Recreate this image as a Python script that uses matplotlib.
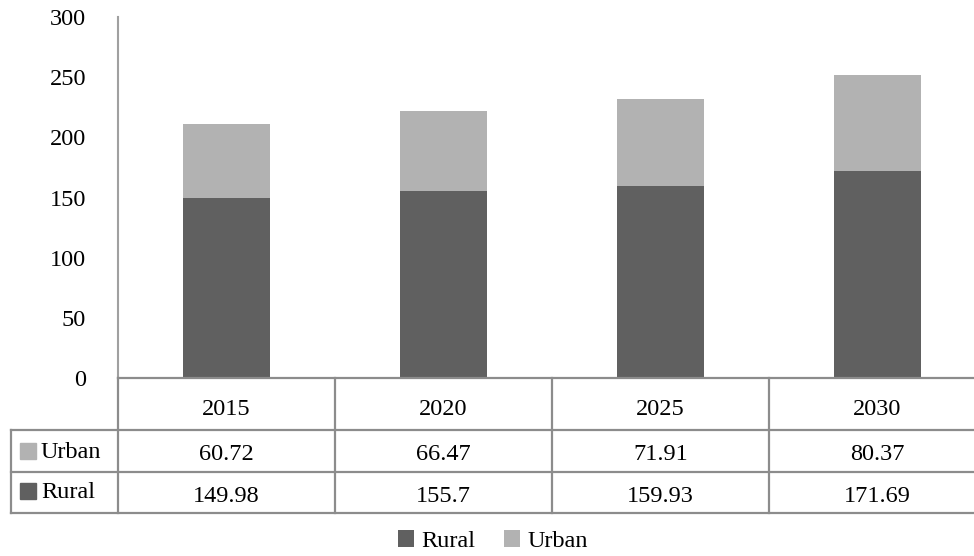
import matplotlib
matplotlib.use("Agg")
import matplotlib.pyplot as plt
from matplotlib.lines import Line2D
from matplotlib.patches import Rectangle
from matplotlib.transforms import blended_transform_factory

years = ["2015", "2020", "2025", "2030"]
rural = [149.98, 155.7, 159.93, 171.69]
urban = [60.72, 66.47, 71.91, 80.37]

RURAL_C = "#606060"
URBAN_C = "#b2b2b2"
LINE_C = "#8c8c8c"

plt.rcParams["font.family"] = ["Liberation Serif", "DejaVu Serif"]
plt.rcParams["font.size"] = 17.5

W, H = 974, 556
fig = plt.figure(figsize=(W / 100, H / 100), dpi=100)


def fx(px):
    return px / W


def fy(py):
    return 1 - py / H


# plot area in pixel terms: left 118, right 986 (runs past the edge), top 17, bottom 378
ax = fig.add_axes([fx(118), fy(378), fx(986 - 118), (378 - 17) / H])
x = list(range(len(years)))
ax.bar(x, rural, width=0.4, color=RURAL_C, label="Rural", zorder=2)
ax.bar(x, urban, width=0.4, bottom=rural, color=URBAN_C, label="Urban", zorder=2)

ax.set_xlim(-0.5, len(years) - 0.5)
ax.set_ylim(0, 300)
ax.set_yticks(range(0, 301, 50))
ax.set_xticks([])
ax.tick_params(axis="y", length=0, pad=23)
for lbl in ax.get_yticklabels():
    lbl.set_va("center_baseline")
for s in ("top", "right", "bottom"):
    ax.spines[s].set_visible(False)
ax.spines["left"].set_color("#a0a0a0")
ax.spines["left"].set_linewidth(1.5)

# data table under the axis
tr = blended_transform_factory(ax.transData, fig.transFigure)


def hline(py, x0, x1):
    fig.add_artist(Line2D([fx(x0), fx(x1)], [fy(py), fy(py)], color=LINE_C, lw=1.6))


def vline(px, y0, y1):
    fig.add_artist(Line2D([fx(px), fx(px)], [fy(y0), fy(y1)], color=LINE_C, lw=1.6))


hline(378, 118, 990)
for py in (430, 472, 513):
    hline(py, 11, 990)
vline(11, 430, 513)
col_w = (986 - 118) / len(years)
for i in range(len(years)):
    vline(118 + i * col_w, 378, 513)

# (name, values, colour, baseline of values, baseline of row label)
rows = [("Urban", urban, URBAN_C, 460, 458), ("Rural", rural, RURAL_C, 502, 498)]
for i, yr in enumerate(years):
    ax.text(i, fy(415), yr, transform=tr, ha="center", va="baseline")
for name, vals, col, base, lab_base in rows:
    fig.add_artist(Rectangle((fx(20), fy(lab_base + 1)), 16 / W, 16 / H, color=col))
    fig.text(fx(41), fy(lab_base), name, ha="left", va="baseline")
    for i, v in enumerate(vals):
        ax.text(i, fy(base), f"{v:g}", transform=tr, ha="center", va="baseline")

handles, labels = ax.get_legend_handles_labels()
fig.legend(handles, labels, loc="center", bbox_to_anchor=(fx(493), fy(541)),
           ncol=2, frameon=False, handlelength=0.68, handleheight=0.68,
           handletextpad=0.3, columnspacing=1.15, borderaxespad=0)

fig.savefig("out.png", dpi=100)
